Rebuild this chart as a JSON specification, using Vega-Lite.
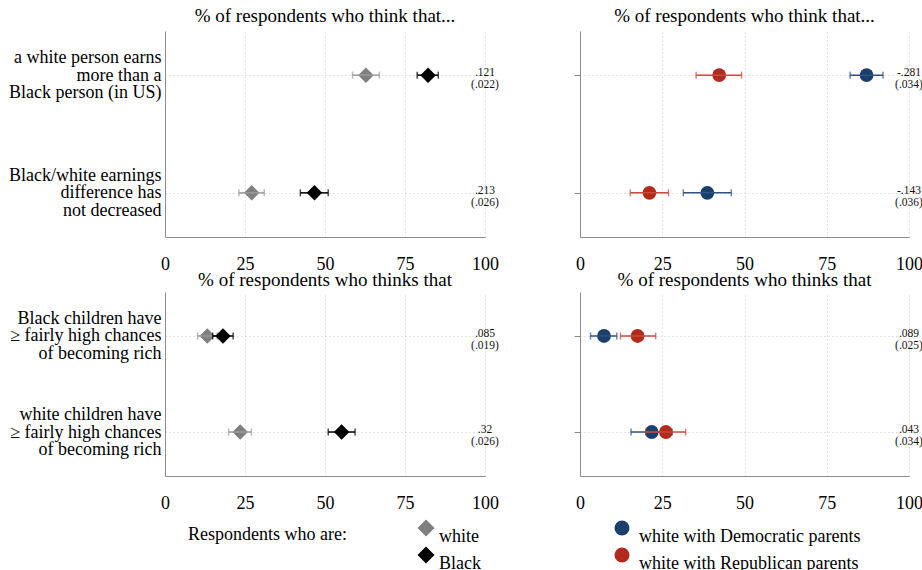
{
  "$schema": "https://vega.github.io/schema/vega-lite/v6.json",
  "padding": {"left": 8, "top": 7, "right": 0, "bottom": 2},
  "config": {
    "font": "Liberation Serif",
    "view": {"stroke": null},
    "axis": {"domainColor": "#8c8c8c", "domainWidth": 1, "gridColor": "#c8c8c8", "gridDash": [1, 3], "gridWidth": 1, "labelColor": "#000000", "tickColor": "#8c8c8c"},
    "title": {"fontSize": 19, "fontWeight": "normal", "color": "#000000", "baseline": "alphabetic", "offset": 5, "anchor": "middle"},
    "legend": {"labelColor": "#000000", "titleColor": "#000000", "padding": 0}
  },
  "datasets": {
    "tl": [
      {"q": "a white person earns|more than a|Black person (in US)", "grp": "white", "est": 62.8, "lo": 58.6, "hi": 67.0},
      {"q": "a white person earns|more than a|Black person (in US)", "grp": "Black", "est": 82.2, "lo": 78.8, "hi": 85.4, "note": ".121\n(.022)"},
      {"q": "Black/white earnings|difference has|not decreased", "grp": "white", "est": 27.1, "lo": 23.1, "hi": 31.0},
      {"q": "Black/white earnings|difference has|not decreased", "grp": "Black", "est": 46.7, "lo": 42.3, "hi": 51.0, "note": ".213\n(.026)"}
    ],
    "tr": [
      {"q": "a white person earns|more than a|Black person (in US)", "grp": "white with Democratic parents", "est": 87.1, "lo": 82.1, "hi": 92.1},
      {"q": "a white person earns|more than a|Black person (in US)", "grp": "white with Republican parents", "est": 42.3, "lo": 35.3, "hi": 49.1, "note": "-.281\n(.034)"},
      {"q": "Black/white earnings|difference has|not decreased", "grp": "white with Democratic parents", "est": 38.7, "lo": 31.4, "hi": 46.0},
      {"q": "Black/white earnings|difference has|not decreased", "grp": "white with Republican parents", "est": 21.1, "lo": 15.3, "hi": 26.9, "note": "-.143\n(.036)"}
    ],
    "bl": [
      {"q": "Black children have|≥ fairly high chances|of becoming rich", "grp": "white", "est": 13.2, "lo": 10.2, "hi": 16.3},
      {"q": "Black children have|≥ fairly high chances|of becoming rich", "grp": "Black", "est": 18.1, "lo": 14.9, "hi": 21.3, "note": ".085\n(.019)"},
      {"q": "white children have|≥ fairly high chances|of becoming rich", "grp": "white", "est": 23.5, "lo": 19.9, "hi": 27.0},
      {"q": "white children have|≥ fairly high chances|of becoming rich", "grp": "Black", "est": 55.2, "lo": 51.0, "hi": 59.4, "note": ".32\n(.026)"}
    ],
    "br": [
      {"q": "Black children have|≥ fairly high chances|of becoming rich", "grp": "white with Democratic parents", "est": 7.3, "lo": 3.2, "hi": 11.2},
      {"q": "Black children have|≥ fairly high chances|of becoming rich", "grp": "white with Republican parents", "est": 17.5, "lo": 12.3, "hi": 23.0, "note": ".089\n(.025)"},
      {"q": "white children have|≥ fairly high chances|of becoming rich", "grp": "white with Democratic parents", "est": 21.8, "lo": 15.5, "hi": 28.0},
      {"q": "white children have|≥ fairly high chances|of becoming rich", "grp": "white with Republican parents", "est": 26.1, "lo": 20.0, "hi": 32.1, "note": ".043\n(.034)"}
    ]
  },
  "spacing": -2,
  "resolve": {"scale": {"x": "independent", "y": "independent", "color": "independent"}, "axis": {"x": "independent", "y": "independent"}, "legend": {"color": "independent"}},
  "vconcat": [
    {
      "bounds": "flush",
      "spacing": 95,
      "resolve": {"scale": {"x": "independent", "y": "independent", "color": "independent"}, "axis": {"x": "independent", "y": "independent"}, "legend": {"color": "independent"}},
      "hconcat": [
        {
          "width": 320, "height": 206,
          "title": {"text": "% of respondents who think that..."},
          "data": {"name": "tl"},
          "encoding": {"y": {"field": "q", "type": "nominal", "title": null, "scale": {"type": "point", "padding": 0.375, "domain": ["a white person earns|more than a|Black person (in US)", "Black/white earnings|difference has|not decreased"]}, "axis": {"labelExpr": "split(datum.label, '|')", "labelFontSize": 18, "labelLineHeight": 17.5, "labelOffset": -17.5, "labelPadding": 4, "ticks": false, "grid": true, "labelLimit": 400, "labelBaseline": "middle", "labelAlign": "right"}}},
          "layer": [
            {"transform": [{"filter": "datum.grp == 'white'"}], "mark": {"type": "point", "filled": true, "shape": "diamond", "size": 240, "opacity": 1, "strokeWidth": 0},
             "encoding": {"x": {"field": "est", "type": "quantitative", "title": null, "scale": {"domain": [0, 100], "nice": false, "zero": false}, "axis": {"values": [0, 25, 50, 75, 100], "grid": true, "ticks": false, "labelFontSize": 18, "labelPadding": 18, "labelFlush": false}},
                          "color": {"field": "grp", "type": "nominal", "scale": {"domain": ["white", "Black"], "range": ["#7f7f7f", "#000000"]}, "legend": null}}},
            {"transform": [{"filter": "datum.grp == 'white'"}], "mark": {"type": "errorbar", "color": "#9a9a9a", "size": 7, "thickness": 1.5, "ticks": true},
             "encoding": {"x": {"field": "lo", "type": "quantitative", "title": null, "scale": {"domain": [0, 100], "nice": false, "zero": false}}, "x2": {"field": "hi"}}},
            {"transform": [{"filter": "datum.grp == 'Black'"}], "mark": {"type": "point", "filled": true, "shape": "diamond", "size": 240, "opacity": 1, "strokeWidth": 0},
             "encoding": {"x": {"field": "est", "type": "quantitative", "title": null, "scale": {"domain": [0, 100], "nice": false, "zero": false}},
                          "color": {"field": "grp", "type": "nominal", "scale": {"domain": ["white", "Black"], "range": ["#7f7f7f", "#000000"]}, "legend": null}}},
            {"transform": [{"filter": "datum.grp == 'Black'"}], "mark": {"type": "errorbar", "color": "#000000", "size": 7, "thickness": 1.5, "ticks": true},
             "encoding": {"x": {"field": "lo", "type": "quantitative", "title": null, "scale": {"domain": [0, 100], "nice": false, "zero": false}}, "x2": {"field": "hi"}}},
            {"transform": [{"filter": "isValid(datum.note)"}], "mark": {"type": "text", "fontSize": 11.5, "lineHeight": 12, "lineBreak": "\n", "align": "center", "baseline": "middle", "dy": -2, "color": "#111111"},
             "encoding": {"x": {"datum": 100, "type": "quantitative", "title": null, "scale": {"domain": [0, 100], "nice": false, "zero": false}}, "text": {"field": "note"}}}
          ]
        },
        {
          "width": 329, "height": 206,
          "title": {"text": "% of respondents who think that..."},
          "data": {"name": "tr"},
          "encoding": {"y": {"field": "q", "type": "nominal", "title": null, "scale": {"type": "point", "padding": 0.375, "domain": ["a white person earns|more than a|Black person (in US)", "Black/white earnings|difference has|not decreased"]}, "axis": {"labels": false, "ticks": true, "tickSize": 6, "grid": true}}},
          "layer": [
            {"transform": [{"filter": "datum.grp == 'white with Democratic parents'"}], "mark": {"type": "point", "filled": true, "shape": "circle", "size": 190, "opacity": 1, "strokeWidth": 0},
             "encoding": {"x": {"field": "est", "type": "quantitative", "title": null, "scale": {"domain": [0, 100], "nice": false, "zero": false}, "axis": {"values": [0, 25, 50, 75, 100], "grid": true, "ticks": false, "labelFontSize": 18, "labelPadding": 18, "labelFlush": false}},
                          "color": {"field": "grp", "type": "nominal", "scale": {"domain": ["white with Democratic parents", "white with Republican parents"], "range": ["#1a3f6b", "#b3291b"]}, "legend": null}}},
            {"transform": [{"filter": "datum.grp == 'white with Democratic parents'"}], "mark": {"type": "errorbar", "color": "#2d5283", "size": 7, "thickness": 1.5, "ticks": true},
             "encoding": {"x": {"field": "lo", "type": "quantitative", "title": null, "scale": {"domain": [0, 100], "nice": false, "zero": false}}, "x2": {"field": "hi"}}},
            {"transform": [{"filter": "datum.grp == 'white with Republican parents'"}], "mark": {"type": "point", "filled": true, "shape": "circle", "size": 190, "opacity": 1, "strokeWidth": 0},
             "encoding": {"x": {"field": "est", "type": "quantitative", "title": null, "scale": {"domain": [0, 100], "nice": false, "zero": false}},
                          "color": {"field": "grp", "type": "nominal", "scale": {"domain": ["white with Democratic parents", "white with Republican parents"], "range": ["#1a3f6b", "#b3291b"]}, "legend": null}}},
            {"transform": [{"filter": "datum.grp == 'white with Republican parents'"}], "mark": {"type": "errorbar", "color": "#c74a3b", "size": 7, "thickness": 1.5, "ticks": true},
             "encoding": {"x": {"field": "lo", "type": "quantitative", "title": null, "scale": {"domain": [0, 100], "nice": false, "zero": false}}, "x2": {"field": "hi"}}},
            {"transform": [{"filter": "isValid(datum.note)"}], "mark": {"type": "text", "fontSize": 11.5, "lineHeight": 12, "lineBreak": "\n", "align": "center", "baseline": "middle", "dy": -2, "color": "#111111"},
             "encoding": {"x": {"datum": 100, "type": "quantitative", "title": null, "scale": {"domain": [0, 100], "nice": false, "zero": false}}, "text": {"field": "note"}}}
          ]
        }
      ]
    },
    {
      "bounds": "flush",
      "spacing": 95,
      "resolve": {"scale": {"x": "independent", "y": "independent", "color": "independent"}, "axis": {"x": "independent", "y": "independent"}, "legend": {"color": "independent"}},
      "hconcat": [
        {
          "width": 320, "height": 184,
          "title": {"text": "% of respondents who thinks that", "offset": 2},
          "data": {"name": "bl"},
          "encoding": {"y": {"field": "q", "type": "nominal", "title": null, "scale": {"type": "point", "padding": 0.458, "domain": ["Black children have|≥ fairly high chances|of becoming rich", "white children have|≥ fairly high chances|of becoming rich"]}, "axis": {"labelExpr": "split(datum.label, '|')", "labelFontSize": 18, "labelLineHeight": 17.5, "labelOffset": -17.5, "labelPadding": 4, "ticks": false, "grid": true, "labelLimit": 400, "labelBaseline": "middle", "labelAlign": "right"}}},
          "layer": [
            {"transform": [{"filter": "datum.grp == 'white'"}], "mark": {"type": "point", "filled": true, "shape": "diamond", "size": 240, "opacity": 1, "strokeWidth": 0},
             "encoding": {"x": {"field": "est", "type": "quantitative", "title": null, "scale": {"domain": [0, 100], "nice": false, "zero": false}, "axis": {"values": [0, 25, 50, 75, 100], "grid": true, "ticks": false, "labelFontSize": 18, "labelPadding": 18, "labelFlush": false}},
                          "color": {"field": "grp", "type": "nominal", "scale": {"domain": ["white", "Black"], "range": ["#7f7f7f", "#000000"]},
                                    "legend": {"title": "Respondents who are:", "orient": "none", "legendX": 23, "legendY": 227, "titleOrient": "left", "titleAnchor": "start", "titlePadding": 70, "titleFontSize": 18, "titleFontWeight": "normal", "titleBaseline": "line-top", "titleLineHeight": 32, "symbolType": "diamond", "symbolSize": 289, "symbolStrokeWidth": 0, "labelFontSize": 18, "labelOffset": 4, "labelBaseline": "top", "rowPadding": 0}}}},
            {"transform": [{"filter": "datum.grp == 'white'"}], "mark": {"type": "errorbar", "color": "#9a9a9a", "size": 7, "thickness": 1.5, "ticks": true},
             "encoding": {"x": {"field": "lo", "type": "quantitative", "title": null, "scale": {"domain": [0, 100], "nice": false, "zero": false}}, "x2": {"field": "hi"}}},
            {"transform": [{"filter": "datum.grp == 'Black'"}], "mark": {"type": "point", "filled": true, "shape": "diamond", "size": 240, "opacity": 1, "strokeWidth": 0},
             "encoding": {"x": {"field": "est", "type": "quantitative", "title": null, "scale": {"domain": [0, 100], "nice": false, "zero": false}},
                          "color": {"field": "grp", "type": "nominal", "scale": {"domain": ["white", "Black"], "range": ["#7f7f7f", "#000000"]},
                                    "legend": {"title": "Respondents who are:", "orient": "none", "legendX": 23, "legendY": 227, "titleOrient": "left", "titleAnchor": "start", "titlePadding": 70, "titleFontSize": 18, "titleFontWeight": "normal", "titleBaseline": "line-top", "titleLineHeight": 32, "symbolType": "diamond", "symbolSize": 289, "symbolStrokeWidth": 0, "labelFontSize": 18, "labelOffset": 4, "labelBaseline": "top", "rowPadding": 0}}}},
            {"transform": [{"filter": "datum.grp == 'Black'"}], "mark": {"type": "errorbar", "color": "#000000", "size": 7, "thickness": 1.5, "ticks": true},
             "encoding": {"x": {"field": "lo", "type": "quantitative", "title": null, "scale": {"domain": [0, 100], "nice": false, "zero": false}}, "x2": {"field": "hi"}}},
            {"transform": [{"filter": "isValid(datum.note)"}], "mark": {"type": "text", "fontSize": 11.5, "lineHeight": 12, "lineBreak": "\n", "align": "center", "baseline": "middle", "dy": -2, "color": "#111111"},
             "encoding": {"x": {"datum": 100, "type": "quantitative", "title": null, "scale": {"domain": [0, 100], "nice": false, "zero": false}}, "text": {"field": "note"}}}
          ]
        },
        {
          "width": 329, "height": 184,
          "title": {"text": "% of respondents who thinks that", "offset": 2},
          "data": {"name": "br"},
          "encoding": {"y": {"field": "q", "type": "nominal", "title": null, "scale": {"type": "point", "padding": 0.458, "domain": ["Black children have|≥ fairly high chances|of becoming rich", "white children have|≥ fairly high chances|of becoming rich"]}, "axis": {"labels": false, "ticks": true, "tickSize": 6, "grid": true}}},
          "layer": [
            {"transform": [{"filter": "datum.grp == 'white with Democratic parents'"}], "mark": {"type": "point", "filled": true, "shape": "circle", "size": 190, "opacity": 1, "strokeWidth": 0},
             "encoding": {"x": {"field": "est", "type": "quantitative", "title": null, "scale": {"domain": [0, 100], "nice": false, "zero": false}, "axis": {"values": [0, 25, 50, 75, 100], "grid": true, "ticks": false, "labelFontSize": 18, "labelPadding": 18, "labelFlush": false}},
                          "color": {"field": "grp", "type": "nominal", "scale": {"domain": ["white with Democratic parents", "white with Republican parents"], "range": ["#1a3f6b", "#b3291b"]},
                                    "legend": {"title": null, "orient": "none", "legendX": 33, "legendY": 227, "symbolType": "circle", "symbolSize": 225, "symbolStrokeWidth": 0, "labelFontSize": 18, "labelOffset": 8, "labelBaseline": "top", "rowPadding": 0, "labelLimit": 400}}}},
            {"transform": [{"filter": "datum.grp == 'white with Democratic parents'"}], "mark": {"type": "errorbar", "color": "#2d5283", "size": 7, "thickness": 1.5, "ticks": true},
             "encoding": {"x": {"field": "lo", "type": "quantitative", "title": null, "scale": {"domain": [0, 100], "nice": false, "zero": false}}, "x2": {"field": "hi"}}},
            {"transform": [{"filter": "datum.grp == 'white with Republican parents'"}], "mark": {"type": "point", "filled": true, "shape": "circle", "size": 190, "opacity": 1, "strokeWidth": 0},
             "encoding": {"x": {"field": "est", "type": "quantitative", "title": null, "scale": {"domain": [0, 100], "nice": false, "zero": false}},
                          "color": {"field": "grp", "type": "nominal", "scale": {"domain": ["white with Democratic parents", "white with Republican parents"], "range": ["#1a3f6b", "#b3291b"]},
                                    "legend": {"title": null, "orient": "none", "legendX": 33, "legendY": 227, "symbolType": "circle", "symbolSize": 225, "symbolStrokeWidth": 0, "labelFontSize": 18, "labelOffset": 8, "labelBaseline": "top", "rowPadding": 0, "labelLimit": 400}}}},
            {"transform": [{"filter": "datum.grp == 'white with Republican parents'"}], "mark": {"type": "errorbar", "color": "#c74a3b", "size": 7, "thickness": 1.5, "ticks": true},
             "encoding": {"x": {"field": "lo", "type": "quantitative", "title": null, "scale": {"domain": [0, 100], "nice": false, "zero": false}}, "x2": {"field": "hi"}}},
            {"transform": [{"filter": "isValid(datum.note)"}], "mark": {"type": "text", "fontSize": 11.5, "lineHeight": 12, "lineBreak": "\n", "align": "center", "baseline": "middle", "dy": -2, "color": "#111111"},
             "encoding": {"x": {"datum": 100, "type": "quantitative", "title": null, "scale": {"domain": [0, 100], "nice": false, "zero": false}}, "text": {"field": "note"}}}
          ]
        }
      ]
    }
  ]
}
